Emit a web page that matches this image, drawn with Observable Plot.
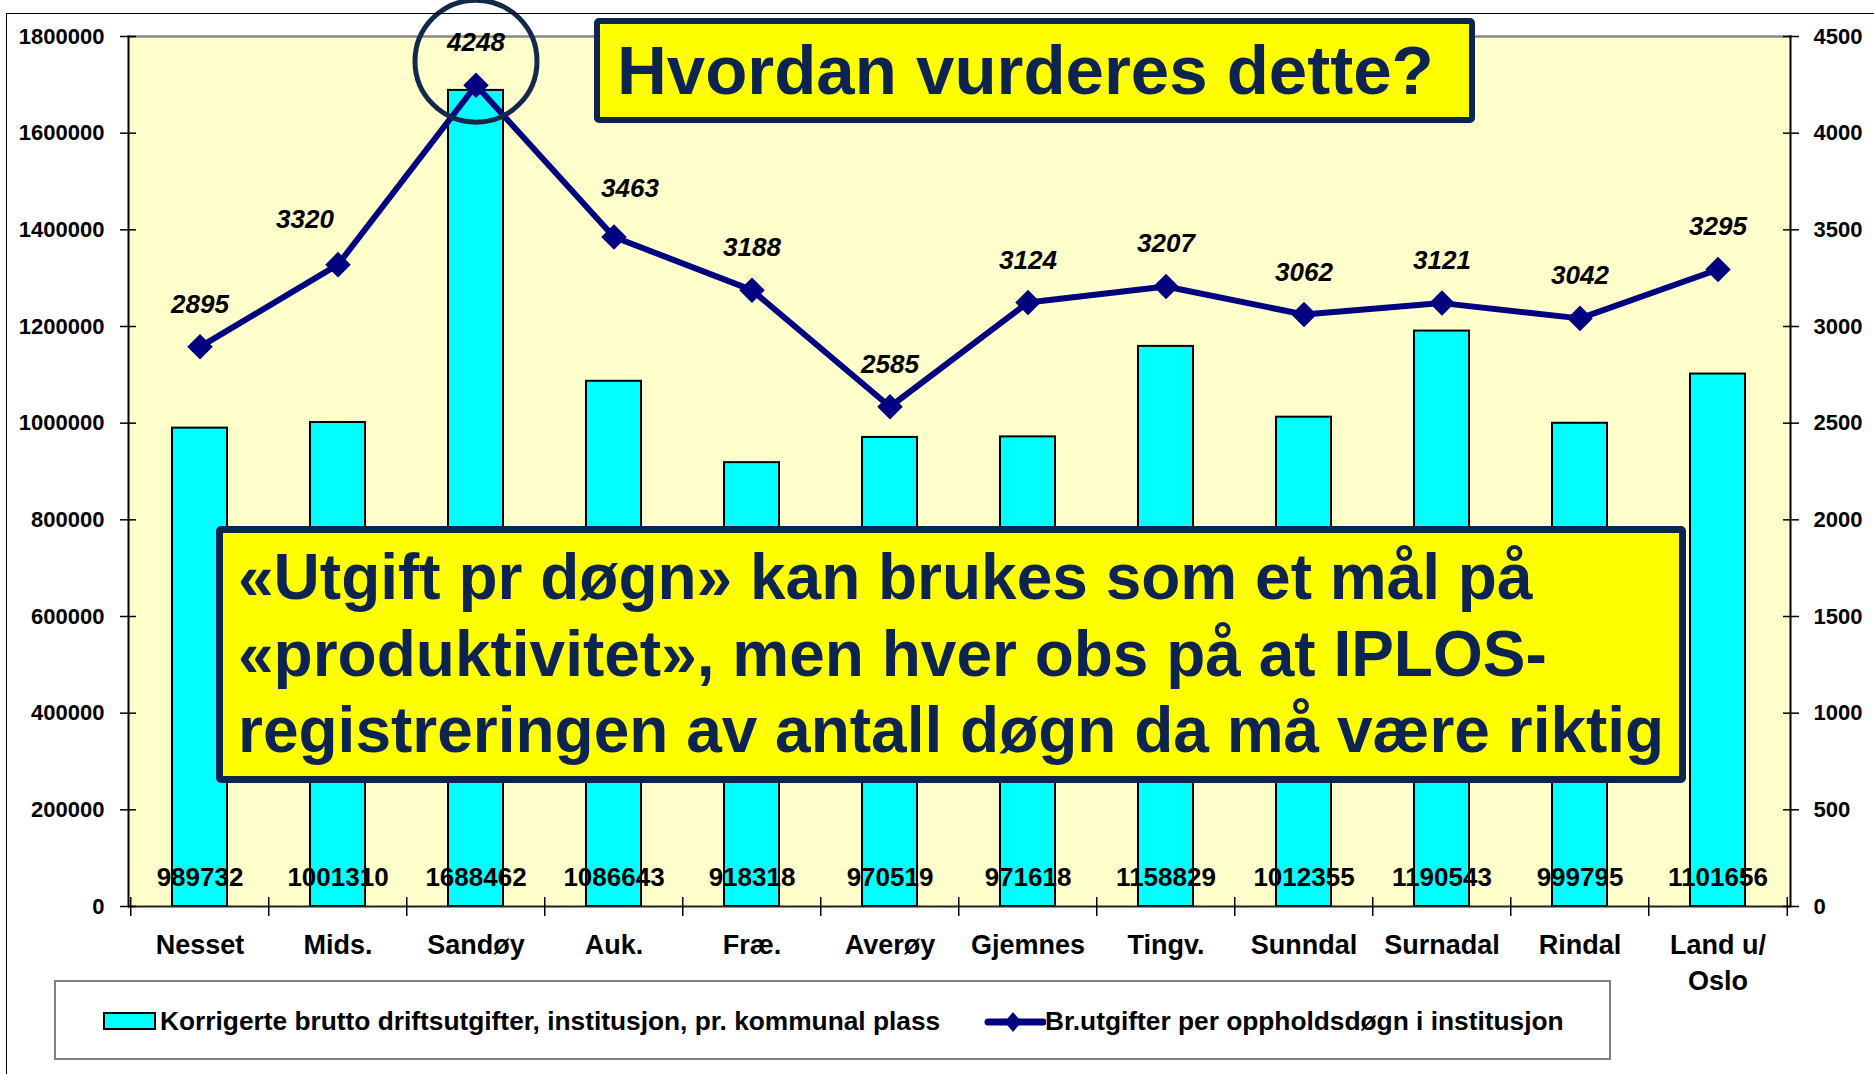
<!DOCTYPE html>
<html>
<head>
<meta charset="utf-8">
<script src="https://cdn.jsdelivr.net/npm/d3@7"></script>
<script src="https://cdn.jsdelivr.net/npm/@observablehq/plot@0.6"></script>
<style>
  html, body { margin: 0; padding: 0; background: #fff; }
  body { font-family: "Liberation Sans", Arial, Helvetica, sans-serif; }
  #wrap { position: relative; width: 1874px; height: 1074px; overflow: hidden; background: #fff; }
  #chart { position: absolute; left: 0; top: 0; }
  #outer { position: absolute; left: 6px; top: 13px; width: 2000px; height: 2000px;
           border-left: 1px solid #000; border-top: 1px solid #000; pointer-events: none; }
  .callout { position: absolute; box-sizing: border-box; background: #FFFF00;
             border: 6px solid #0D2350; border-radius: 5px; color: #0D2350;
             font-weight: bold; white-space: nowrap; }
  #title { left: 594px; top: 18px; width: 881px; height: 105px;
           font-size: 69px; line-height: 93px; padding-left: 17px; }
  #note { left: 216px; top: 526px; width: 1470px; height: 257px; border-width: 7px;
          font-size: 64px; line-height: 76.5px; padding-left: 15px; padding-top: 6px; }
  #legend { position: absolute; left: 54px; top: 980px; width: 1557px; height: 80px;
            box-sizing: border-box; border: 2px solid #808080; background: #fff; }
  #legend .sw1 { position: absolute; left: 47px; top: 30px; width: 53px; height: 18px;
                 box-sizing: border-box; background: #00FFFF; border: 2px solid #000; }
  #legend .txt { position: absolute; top: 26px; font-size: 26.3px; line-height: 1; font-weight: bold;
                 color: #000; white-space: nowrap; }
  #legend svg { position: absolute; left: 928px; top: 26px; }
</style>
</head>
<body>
<div id="wrap">
  <div id="chart"></div>
  <div id="outer"></div>
  <div id="title" class="callout">Hvordan vurderes dette?</div>
  <div id="note" class="callout">«Utgift pr døgn» kan brukes som et mål på<br>«produktivitet», men hver obs på at IPLOS-<br>registreringen av antall døgn da må være riktig</div>
  <div id="legend">
    <div class="sw1"></div>
    <div class="txt" style="left:104px">Korrigerte brutto driftsutgifter, institusjon, pr. kommunal plass</div>
    <svg width="62" height="30" viewBox="0 0 62 30">
      <line x1="4" y1="14" x2="59" y2="14" stroke="#000080" stroke-width="7" stroke-linecap="round"/>
      <path d="M29,4 L37.5,14 L29,24 L20.5,14 Z" fill="#000080"/>
    </svg>
    <div class="txt" style="left:989px">Br.utgifter per oppholdsdøgn i institusjon</div>
  </div>
</div>
<script>
// ---- data ----
const categories = ["Nesset", "Mids.", "Sandøy", "Auk.", "Fræ.", "Averøy", "Gjemnes", "Tingv.", "Sunndal", "Surnadal", "Rindal", "Land u/\nOslo"];
const costPerPlace = [989732, 1001310, 1688462, 1086643, 918318, 970519, 971618, 1158829, 1012355, 1190543, 999795, 1101656];
const costPerDay = [2895, 3320, 4248, 3463, 3188, 2585, 3124, 3207, 3062, 3121, 3042, 3295];
const leftTicks = [0, 200000, 400000, 600000, 800000, 1000000, 1200000, 1400000, 1600000, 1800000];
const rightMax = 4500;
const leftMax = 1800000;

// ---- layout ----
const W = 1874, H = 1074;
const mL = 128, mR = 84, mT = 36, mB = 168;
const step = (W - mL - mR) / categories.length;
const ratio = leftMax / rightMax;

const rows = categories.map((c, i) => ({
  cat: c, cost: costPerPlace[i], perDay: costPerDay[i], perDayScaled: costPerDay[i] * ratio
}));

const navy = "#000080";
const font = "'Liberation Sans', Arial, Helvetica, sans-serif";
const labelShift = { "Mids.": { dx: -33, dy: -37 }, "Auk.": { dx: 16, dy: -40 } };
const lineLabelStyle = {
  x: "cat", y: "perDayScaled", text: d => String(d.perDay), lineAnchor: "bottom",
  fontSize: 26, fontWeight: "bold", fontStyle: "italic", fill: "#000"
};

const chart = Plot.plot({
  width: W, height: H,
  marginLeft: mL, marginRight: mR, marginTop: mT, marginBottom: mB,
  style: { background: "transparent", fontFamily: font, color: "#000", overflow: "visible" },
  x: { domain: categories, paddingInner: 0.6, paddingOuter: 0.3, label: null },
  y: { domain: [0, leftMax], label: null },
  marks: [
    Plot.frame({ fill: "#FFFFCC", stroke: null }),
    Plot.frame({ anchor: "top", stroke: "#888888", strokeWidth: 2.5 }),
    Plot.barY(rows, { x: "cat", y: "cost", fill: "#00FFFF", stroke: "#000", strokeWidth: 2 }),
    Plot.text(rows, { x: "cat", text: d => String(d.cost), frameAnchor: "bottom", lineAnchor: "bottom",
      dy: -21, fontSize: 26, fontWeight: "bold", fill: "#000" }),
    Plot.ruleY([0], { stroke: "#222", strokeWidth: 2 }),
    Plot.frame({ anchor: "left", stroke: "#000", strokeWidth: 2 }),
    Plot.frame({ anchor: "right", stroke: "#000", strokeWidth: 2 }),
    // left axis
    Plot.axisY(leftTicks, { anchor: "left", tickSize: 16, dx: 8, text: null, strokeWidth: 1.5 }),
    Plot.axisY(leftTicks, { anchor: "left", tickSize: 0, tickPadding: 24, tickFormat: d => String(d),
      fontSize: 22, fontWeight: "bold", label: null }),
    // right axis (secondary scale)
    Plot.axisY(leftTicks, { anchor: "right", tickSize: 16, dx: -8, text: null, strokeWidth: 1.5 }),
    Plot.axisY(leftTicks, { anchor: "right", tickSize: 0, tickPadding: 23, tickFormat: d => String(d / ratio),
      fontSize: 22, fontWeight: "bold", label: null }),
    // x axis
    Plot.axisX({ anchor: "bottom", tickSize: 19, dy: -9, dx: -step / 2, text: null, strokeWidth: 1.5 }),
    Plot.axisX([categories[categories.length - 1]], { anchor: "bottom", tickSize: 19, dy: -9, dx: step / 2, text: null, strokeWidth: 1.5 }),
    Plot.axisX({ anchor: "bottom", tickSize: 0, tickPadding: 23, fontSize: 27, fontWeight: "bold",
      lineHeight: 1.3, label: null }),
    // line series
    Plot.line(rows, { x: "cat", y: "perDayScaled", stroke: navy, strokeWidth: 6, strokeLinejoin: "miter", strokeLinecap: "butt" }),
    Plot.dot(rows, { x: "cat", y: "perDayScaled", symbol: "diamond2", r: 11.5, fill: navy, stroke: null }),
    Plot.text(rows, { ...lineLabelStyle, filter: d => !(d.cat in labelShift), dy: -34 }),
    ...Object.entries(labelShift).map(([c, s]) =>
      Plot.text(rows, { ...lineLabelStyle, filter: d => d.cat === c, dx: s.dx, dy: s.dy })),
    // highlight circle around the maximum
    Plot.dot(rows, { filter: d => d.perDay === d3.max(costPerDay), x: "cat", y: "perDayScaled",
      r: 61, dy: -24, fill: "none", stroke: "#14284B", strokeWidth: 5 })
  ]
});
document.getElementById("chart").appendChild(chart);
</script>
</body>
</html>
